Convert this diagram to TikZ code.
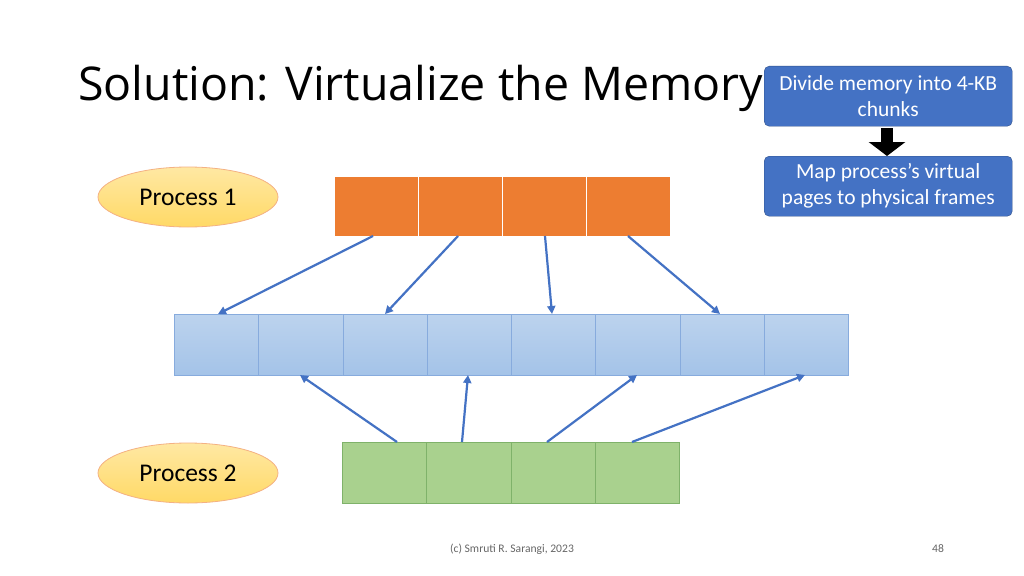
\documentclass[tikz,border=0pt]{standalone}
\usepackage{fontspec}
\setmainfont{Carlito}
\newfontfamily\titlefont{Open Sans}
\usetikzlibrary{shapes.geometric,arrows.meta,calc}
\definecolor{orng}{HTML}{ED7D31}
\definecolor{bluel}{HTML}{A4C3E8}
\definecolor{bluelt}{HTML}{BCD3EE}
\definecolor{grn}{HTML}{A9D18E}
\definecolor{grnd}{HTML}{7FB26A}
\definecolor{acc}{HTML}{4472C4}
\definecolor{ylw}{HTML}{FFD966}
\begin{document}
\begin{tikzpicture}[x=1pt,y=-1pt,
  ob/.style={draw=white,line width=1pt,fill=orng,minimum width=84pt,minimum height=60pt,inner sep=0,anchor=north west},
  bb/.style={draw=bluel!70!acc,line width=0.5pt,top color=bluelt,bottom color=bluel,minimum width=84.25pt,minimum height=61pt,inner sep=0,anchor=north west},
  gb/.style={draw=grnd,line width=0.5pt,fill=grn,minimum width=84.25pt,minimum height=61pt,inner sep=0,anchor=north west},
  proc/.style={ellipse,draw=orng!60,line width=0.8pt,top color=ylw!60,bottom color=ylw,minimum width=180pt,minimum height=60pt,font=\fontsize{25.5pt}{28pt}\selectfont},
  call/.style={draw=acc!70!black,fill=acc,rounded corners=5pt,text=white,minimum width=248pt,minimum height=60pt,align=center,inner sep=1pt,font=\fontsize{21.5pt}{26pt}\selectfont,anchor=north west},
  arr/.style={draw=acc,line width=2.2pt,-{Triangle[length=8pt,width=8pt]}}]
\useasboundingbox (0,0) rectangle (1024,575);
\fill[white] (0,0) rectangle (1024,575);
\node[anchor=base west,inner sep=0,font=\titlefont\fontsize{46.5pt}{50pt}\selectfont] (title) at (78,100) {Solution: Virtualize the Memory};
\foreach \i in {0,...,3}{\node[ob] (o\i) at ({334+84*\i},176) {};}
\foreach \i in {0,...,7}{\node[bb] (b\i) at ({174+84.25*\i},314) {};}
\foreach \i in {0,...,3}{\node[gb] (g\i) at ({342+84.25*\i},442) {};}
\node[proc] (p1) at (188,197) {Process 1};
\node[proc] (p2) at (188,473) {Process 2};
\node[call] (c1) at (764,66) {Divide memory into 4-KB\\chunks};
\node[call] (c2) at (764,156) {Map process’s virtual\\pages to physical frames};
\coordinate (da) at (887,128); \coordinate (db) at (887,156);
\draw[line width=12pt,-{Triangle[length=14pt,width=36pt]}] (da) -- (db);
\coordinate (s0) at (373,236); \coordinate (e0) at (218,314);
\coordinate (s1) at (458,236); \coordinate (e1) at (385,314);
\coordinate (s2) at (545,236); \coordinate (e2) at (552,314);
\coordinate (s3) at (628,236); \coordinate (e3) at (720,314);
\coordinate (t0) at (397,442); \coordinate (f0) at (300,375);
\coordinate (t1) at (462,442); \coordinate (f1) at (468,375);
\coordinate (t2) at (547,442); \coordinate (f2) at (637,375);
\coordinate (t3) at (632,442); \coordinate (f3) at (805,375);
\foreach \i in {0,...,3}{\draw[arr] (s\i) -- (e\i); \draw[arr] (t\i) -- (f\i);}
\node[font=\fontsize{11.6pt}{13pt}\selectfont,text=black!60] (foot) at (512,549) {(c) Smruti R. Sarangi, 2023};
\node[font=\fontsize{11.6pt}{13pt}\selectfont,text=black!60] (pg) at (938,549) {48};
\end{tikzpicture}
\end{document}
